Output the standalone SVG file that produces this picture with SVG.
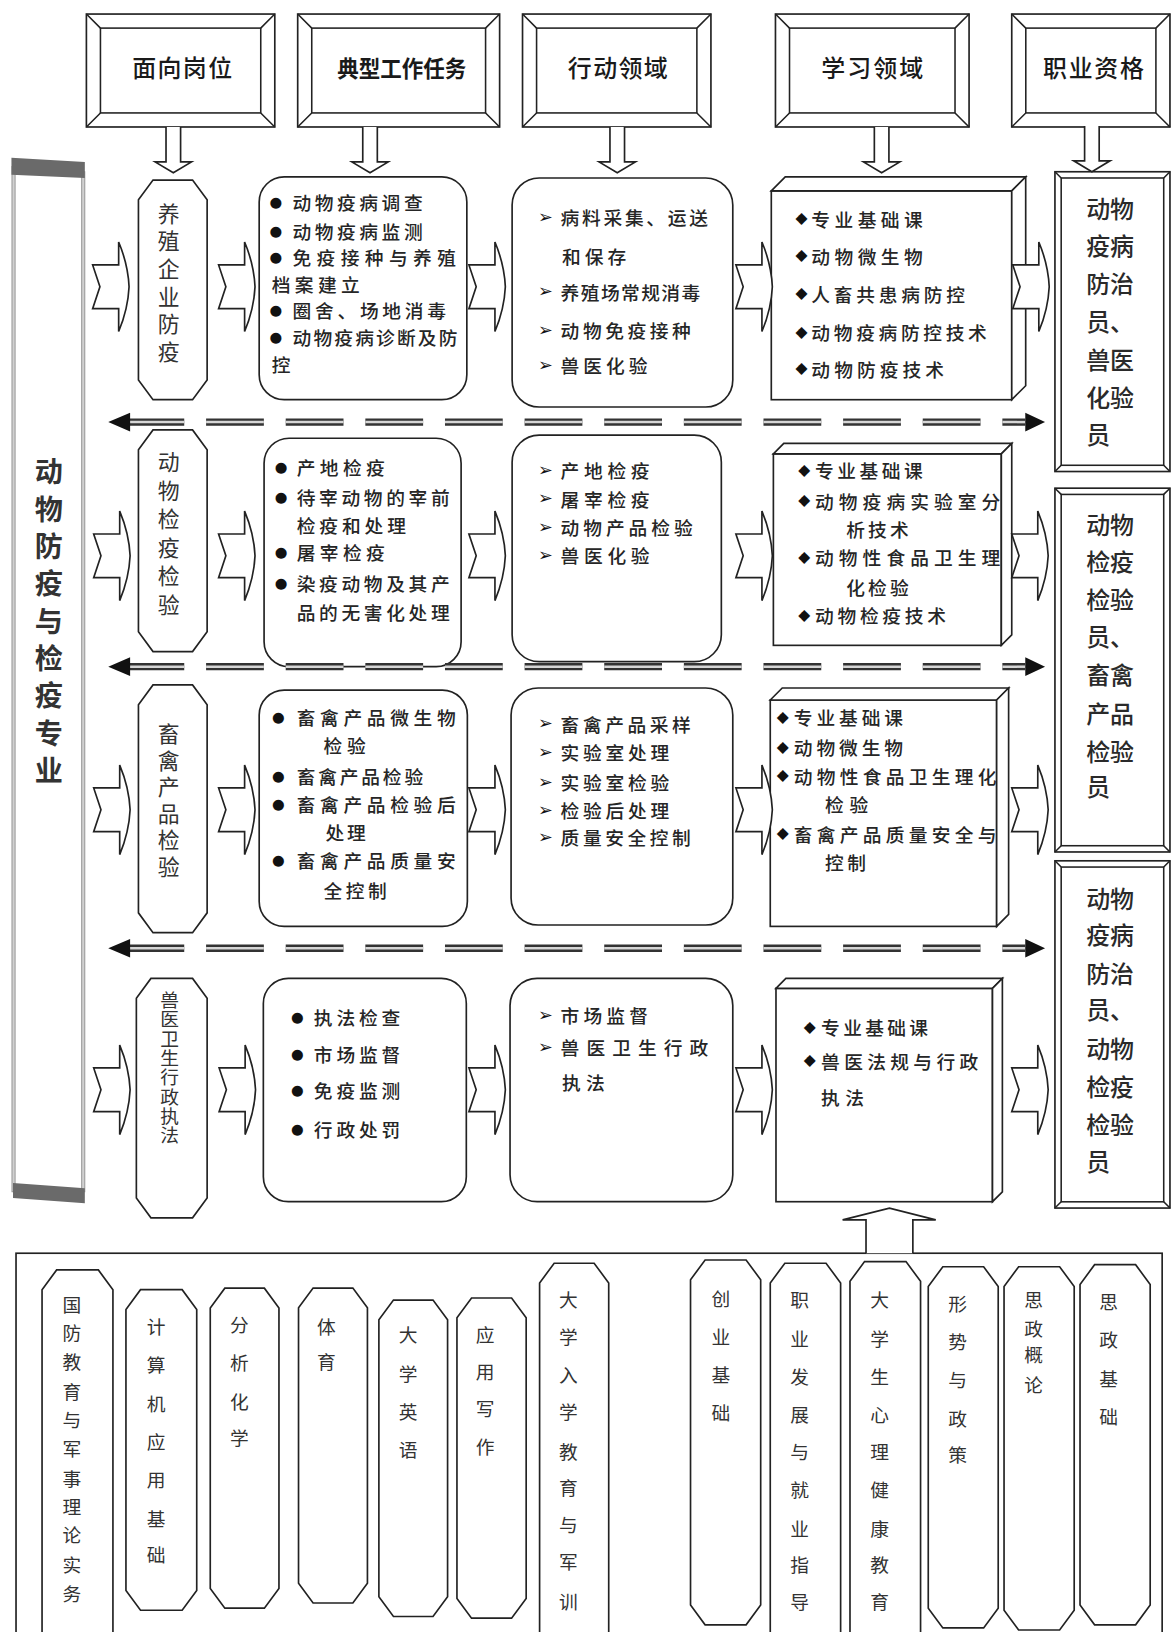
<svg xmlns="http://www.w3.org/2000/svg" width="1171" height="1632" viewBox="0 0 1171 1632">
<defs>
<style>
.s{fill:#fff;stroke:#222;stroke-width:1.6}
.fi{fill:none;stroke:#222;stroke-width:1.5}
.t,.hd,.ct,.lp,.ov,.bo{font-family:"Noto Sans CJK SC","Noto Sans CJK JP",sans-serif;dominant-baseline:central}
tspan{dominant-baseline:central}
.t{font-size:18px;fill:#262626;font-weight:500}
.hd{font-size:23px;fill:#1a1a1a;font-weight:500}
.hb{font-size:22px;font-weight:700}
.ct{font-size:23px;fill:#2a2a2a;font-weight:500}
.lp{font-size:27px;fill:#333;font-weight:700;text-anchor:middle;writing-mode:vertical-rl}
.ov{font-size:21px;fill:#333;text-anchor:middle;writing-mode:vertical-rl}
.ov4{font-size:18px}
.bo{font-size:18px;fill:#333;text-anchor:middle}
.sy{font-family:"DejaVu Sans",sans-serif;fill:#111;text-anchor:middle;dominant-baseline:central}
.dot{font-size:14px}
.arr{font-size:17px}
.dia{font-size:15px}
.dk{stroke:#333;stroke-width:7;stroke-dasharray:55.5 21;fill:none}
.dl{stroke:#d6d6d6;stroke-width:2.4;stroke-dasharray:55.5 21;fill:none}
.ah{fill:#111}
.band{fill:#6a6a6a}
.edge{fill:#d0d0d0;stroke:#888;stroke-width:0.8}
</style>
<path id="ra" d="M0 -21 H25 V-43 Q34 -21.5 35 0 Q34 21.5 25 43 V21 H0 L7 0 Z" class="s"/>
<path id="da" d="M-7 0 V33.5 H-17.5 L0 44 L17.5 33.5 H7 V0" class="s"/>
</defs>
<rect x="0" y="0" width="1171" height="1632" fill="#fff"/>
<g transform="scale(1.04089)">

<!-- left panel -->
<g id="major">
<path d="M11 151.5 L81.5 155.6 V1156 L12.5 1151 Z" fill="#fff"/>
<rect class="edge" x="11.5" y="160" width="3" height="985"/>
<rect class="edge" x="78.5" y="165" width="3" height="980"/>
<path class="band" d="M11 151.5 L81.5 155.6 V171 L11 168 Z"/>
<path class="band" d="M12.5 1136.6 L81.5 1141.5 V1156 L12.5 1151 Z"/>
<text class="lp" x="47" y="596.5" textLength="314">动物防疫与检疫专业</text>
</g>

<!-- headers -->
<g id="h1">
<rect class="s" x="83" y="13.5" width="181" height="108.5"/>
<rect class="fi" x="96.5" y="27" width="154" height="81.5"/>
<path class="fi" d="M83 13.5 L96.5 27 M264 13.5 L250.5 27 M83 122 L96.5 108.5 M264 122 L250.5 108.5"/>
<text class="hd" x="127" y="64" textLength="96">面向岗位</text>
</g>
<g id="h2">
<rect class="s" x="286" y="13.5" width="194" height="108.5"/>
<rect class="fi" x="299.5" y="27" width="167" height="81.5"/>
<path class="fi" d="M286 13.5 L299.5 27 M480 13.5 L466.5 27 M286 122 L299.5 108.5 M480 122 L466.5 108.5"/>
<text class="hd hb" x="324" y="64" textLength="124" lengthAdjust="spacingAndGlyphs">典型工作任务</text>
</g>
<g id="h3">
<rect class="s" x="502" y="13.5" width="181" height="108.5"/>
<rect class="fi" x="515.5" y="27" width="154" height="81.5"/>
<path class="fi" d="M502 13.5 L515.5 27 M683 13.5 L669.5 27 M502 122 L515.5 108.5 M683 122 L669.5 108.5"/>
<text class="hd" x="545.5" y="64" textLength="96">行动领域</text>
</g>
<g id="h4">
<rect class="s" x="745" y="13.5" width="186" height="108.5"/>
<rect class="fi" x="758.5" y="27" width="159" height="81.5"/>
<path class="fi" d="M745 13.5 L758.5 27 M931 13.5 L917.5 27 M745 122 L758.5 108.5 M931 122 L917.5 108.5"/>
<text class="hd" x="789" y="64" textLength="98">学习领域</text>
</g>
<g id="h5">
<rect class="s" x="972" y="13.5" width="152" height="108.5"/>
<rect class="fi" x="985.5" y="27" width="125" height="81.5"/>
<path class="fi" d="M972 13.5 L985.5 27 M1124 13.5 L1110.5 27 M972 122 L985.5 108.5 M1124 122 L1110.5 108.5"/>
<text class="hd" x="1002" y="64" textLength="97">职业资格</text>
</g>

<!-- row 1 -->
<g id="post1">
<path class="s" d="M147 173 H185 L199 192 V365 L185 384 H147 L133 365 V192 Z"/>
<text class="ov" x="162" y="271.5" textLength="154">养殖企业防疫</text>
</g>
<g id="task1">
<rect class="s" x="249" y="170" width="199.5" height="214" rx="24"/>
<text class="sy dot" x="265" y="193.7">●</text><text class="t" x="281" y="193.7" textLength="125">动物疫病调查</text>
<text class="sy dot" x="265" y="221">●</text><text class="t" x="281" y="221" textLength="125">动物疫病监测</text>
<text class="sy dot" x="265" y="246.6">●</text><text class="t" x="281" y="246.6" textLength="157">免疫接种与养殖</text>
<text class="t" x="261" y="272" textLength="84.7">档案建立</text>
<text class="sy dot" x="265" y="297.8">●</text><text class="t" x="281" y="297.8" textLength="147.5">圈舍、场地消毒</text>
<text class="sy dot" x="265" y="323.5">●</text><text class="t" x="281" y="323.5" textLength="158.5">动物疫病诊断及防</text>
<text class="t" x="261" y="349">控</text>
</g>
<g id="act1">
<rect class="s" x="492" y="171" width="212" height="220" rx="26"/>
<text class="sy arr" x="524" y="208">➢</text><text class="t" x="538.6" y="208" textLength="141.5">病料采集、运送</text>
<text class="t" x="540" y="245" textLength="61.7">和保存</text>
<text class="sy arr" x="524" y="280">➢</text><text class="t" x="538.6" y="280" textLength="134">养殖场常规消毒</text>
<text class="sy arr" x="524" y="317">➢</text><text class="t" x="538.6" y="317" textLength="125">动物免疫接种</text>
<text class="sy arr" x="524" y="350.6">➢</text><text class="t" x="538.6" y="350.6" textLength="83.4">兽医化验</text>
</g>
<g id="learn1">
<rect class="s" x="741" y="183.4" width="231" height="200.6"/>
<path class="s" d="M741 183.4 L754.4 170 H985.4 L972 183.4 Z"/>
<path class="s" d="M972 183.4 L985.4 170 V370.6 L972 384 Z"/>
<text class="sy dia" x="770" y="209.8">◆</text><text class="t" x="779.5" y="209.8" textLength="107">专业基础课</text>
<text class="sy dia" x="770" y="245">◆</text><text class="t" x="779.5" y="245" textLength="107">动物微生物</text>
<text class="sy dia" x="770" y="281.8">◆</text><text class="t" x="779.5" y="281.8" textLength="147.5">人畜共患病防控</text>
<text class="sy dia" x="770" y="318.6">◆</text><text class="t" x="779.5" y="318.6" textLength="168.5">动物疫病防控技术</text>
<text class="sy dia" x="770" y="354">◆</text><text class="t" x="779.5" y="354" textLength="127.5">动物防疫技术</text>
</g>

<!-- row 2 -->
<g id="post2">
<path class="s" d="M147 413 H185 L199 432 V607 L185 626 H147 L133 607 V432 Z"/>
<text class="ov" x="162" y="512.3" textLength="158.5">动物检疫检验</text>
</g>
<g id="task2">
<rect class="s" x="253.7" y="421" width="189.3" height="219.5" rx="24"/>
<text class="sy dot" x="270" y="448.4">●</text><text class="t" x="285" y="448.4" textLength="84.7">产地检疫</text>
<text class="sy dot" x="270" y="477">●</text><text class="t" x="285" y="477" textLength="147">待宰动物的宰前</text>
<text class="t" x="285" y="504" textLength="105">检疫和处理</text>
<text class="sy dot" x="270" y="530">●</text><text class="t" x="285" y="530" textLength="84.7">屠宰检疫</text>
<text class="sy dot" x="270" y="560">●</text><text class="t" x="285" y="560" textLength="147">染疫动物及其产</text>
<text class="t" x="285" y="587.6" textLength="147">品的无害化处理</text>
</g>
<g id="act2">
<rect class="s" x="492" y="418" width="201" height="217.7" rx="26"/>
<text class="sy arr" x="524" y="451.5">➢</text><text class="t" x="538.6" y="451.5" textLength="85.4">产地检疫</text>
<text class="sy arr" x="524" y="478.6">➢</text><text class="t" x="538.6" y="478.6" textLength="85.4">屠宰检疫</text>
<text class="sy arr" x="524" y="506">➢</text><text class="t" x="538.6" y="506" textLength="126.8">动物产品检验</text>
<text class="sy arr" x="524" y="533">➢</text><text class="t" x="538.6" y="533" textLength="85.4">兽医化验</text>
</g>
<g id="learn2">
<rect class="s" x="743" y="436" width="219" height="184"/>
<path class="s" d="M743 436 L753 426 H972 L962 436 Z"/>
<path class="s" d="M962 436 L972 426 V610 L962 620 Z"/>
<text class="sy dia" x="772.7" y="451.5">◆</text><text class="t" x="783" y="451.5" textLength="103.4">专业基础课</text>
<text class="sy dia" x="772.7" y="480.4">◆</text><text class="t" x="783" y="480.4" textLength="178">动物疫病实验室分</text>
<text class="t" x="813" y="507.5" textLength="60">析技术</text>
<text class="sy dia" x="772.7" y="534.8">◆</text><text class="t" x="783" y="534.8" textLength="178">动物性食品卫生理</text>
<text class="t" x="813" y="563.6" textLength="60">化检验</text>
<text class="sy dia" x="772.7" y="590.8">◆</text><text class="t" x="783" y="590.8" textLength="125.8">动物检疫技术</text>
</g>

<!-- row 3 -->
<g id="post3">
<path class="s" d="M147 658 H185 L199 677 V877 L185 896 H147 L133 877 V677 Z"/>
<text class="ov" x="162" y="768.8" textLength="148.5">畜禽产品检验</text>
</g>
<g id="task3">
<rect class="s" x="249" y="663" width="200" height="227" rx="24"/>
<text class="sy dot" x="267.5" y="688.5">●</text><text class="t" x="285" y="688.5" textLength="152.7">畜禽产品微生物</text>
<text class="t" x="310.7" y="715.7" textLength="40.6">检验</text>
<text class="sy dot" x="267.5" y="744.6">●</text><text class="t" x="285" y="744.6" textLength="121.5">畜禽产品检验</text>
<text class="sy dot" x="267.5" y="771.6">●</text><text class="t" x="285" y="771.6" textLength="152.7">畜禽产品检验后</text>
<text class="t" x="312.6" y="799" textLength="38.7">处理</text>
<text class="sy dot" x="267.5" y="826">●</text><text class="t" x="285" y="826" textLength="152.7">畜禽产品质量安</text>
<text class="t" x="310.7" y="855" textLength="60.8">全控制</text>
</g>
<g id="act3">
<rect class="s" x="491" y="661" width="213" height="227.7" rx="26"/>
<text class="sy arr" x="524" y="694.8">➢</text><text class="t" x="538.6" y="694.8" textLength="124.9">畜禽产品采样</text>
<text class="sy arr" x="524" y="722">➢</text><text class="t" x="538.6" y="722" textLength="104.4">实验室处理</text>
<text class="sy arr" x="524" y="751">➢</text><text class="t" x="538.6" y="751" textLength="104.4">实验室检验</text>
<text class="sy arr" x="524" y="778">➢</text><text class="t" x="538.6" y="778" textLength="104.4">检验后处理</text>
<text class="sy arr" x="524" y="803.8">➢</text><text class="t" x="538.6" y="803.8" textLength="124.9">质量安全控制</text>
</g>
<g id="learn3">
<rect class="s" x="740" y="672.5" width="217.5" height="217.5"/>
<path class="s" d="M740 672.5 L751.5 661 H969 L957.5 672.5 Z"/>
<path class="s" d="M957.5 672.5 L969 661 V878.5 L957.5 890 Z"/>
<text class="sy dia" x="752" y="688.5">◆</text><text class="t" x="762.6" y="688.5" textLength="105">专业基础课</text>
<text class="sy dia" x="752" y="717.3">◆</text><text class="t" x="762.6" y="717.3" textLength="105">动物微生物</text>
<text class="sy dia" x="752" y="744.6">◆</text><text class="t" x="762.6" y="744.6" textLength="194.8">动物性食品卫生理化</text>
<text class="t" x="792.6" y="771.6" textLength="41.4">检验</text>
<text class="sy dia" x="752" y="800.4">◆</text><text class="t" x="762.6" y="800.4" textLength="194.8">畜禽产品质量安全与</text>
<text class="t" x="792.6" y="827.8" textLength="39.4">控制</text>
</g>

<!-- row 4 -->
<g id="post4">
<path class="s" d="M145 940 H185 L199 959 V1151 L185 1170 H145 L131 1151 V959 Z"/>
<text class="ov ov4" x="163" y="1025.5" textLength="148">兽医卫生行政执法</text>
</g>
<g id="task4">
<rect class="s" x="253" y="940" width="195" height="214.5" rx="24"/>
<text class="sy dot" x="285.7" y="976.7">●</text><text class="t" x="301.5" y="976.7" textLength="83">执法检查</text>
<text class="sy dot" x="285.7" y="1012">●</text><text class="t" x="301.5" y="1012" textLength="83">市场监督</text>
<text class="sy dot" x="285.7" y="1047">●</text><text class="t" x="301.5" y="1047" textLength="83">免疫监测</text>
<text class="sy dot" x="285.7" y="1084">●</text><text class="t" x="301.5" y="1084" textLength="83">行政处罚</text>
</g>
<g id="act4">
<rect class="s" x="490" y="940" width="214" height="214.5" rx="26"/>
<text class="sy arr" x="524" y="975">➢</text><text class="t" x="538.6" y="975" textLength="83.8">市场监督</text>
<text class="sy arr" x="524" y="1005.6">➢</text><text class="t" x="538.6" y="1005.6" textLength="141.7">兽医卫生行政</text>
<text class="t" x="540" y="1039" textLength="41">执法</text>
</g>
<g id="learn4">
<rect class="s" x="745.5" y="949.5" width="208" height="205"/>
<path class="s" d="M745.5 949.5 L755 940 H963 L953.5 949.5 Z"/>
<path class="s" d="M953.5 949.5 L963 940 V1145 L953.5 1154.5 Z"/>
<text class="sy dia" x="778" y="986.4">◆</text><text class="t" x="788.8" y="986.4" textLength="102.8">专业基础课</text>
<text class="sy dia" x="778" y="1018.4">◆</text><text class="t" x="788.8" y="1018.4" textLength="151">兽医法规与行政</text>
<text class="t" x="788.8" y="1053.6" textLength="41.2">执法</text>
</g>

<!-- certificates -->
<g id="cert1">
<rect class="s" x="1013.5" y="165" width="110.5" height="288"/>
<rect class="fi" x="1019.5" y="171" width="98.5" height="276"/>
<path class="fi" d="M1013.5 165 L1019.5 171 M1124 165 L1118 171 M1013.5 453 L1019.5 447 M1124 453 L1118 447"/>
<text class="ct" x="1043.5"><tspan x="1043.5" y="199">动物</tspan><tspan x="1043.5" y="234">疫病</tspan><tspan x="1043.5" y="271">防治</tspan><tspan x="1043.5" y="307">员、</tspan><tspan x="1043.5" y="344">兽医</tspan><tspan x="1043.5" y="380">化验</tspan><tspan x="1043.5" y="416">员</tspan></text>
</g>
<g id="cert2">
<rect class="s" x="1013.5" y="469" width="110.5" height="349.5"/>
<rect class="fi" x="1019.5" y="475" width="98.5" height="337.5"/>
<path class="fi" d="M1013.5 469 L1019.5 475 M1124 469 L1118 475 M1013.5 818.5 L1019.5 812.5 M1124 818.5 L1118 812.5"/>
<text class="ct" x="1043.5"><tspan x="1043.5" y="502.6">动物</tspan><tspan x="1043.5" y="538">检疫</tspan><tspan x="1043.5" y="574.6">检验</tspan><tspan x="1043.5" y="610">员、</tspan><tspan x="1043.5" y="646.7">畜禽</tspan><tspan x="1043.5" y="684">产品</tspan><tspan x="1043.5" y="720.5">检验</tspan><tspan x="1043.5" y="754">员</tspan></text>
</g>
<g id="cert3">
<rect class="s" x="1013.5" y="827" width="110.5" height="333.6"/>
<rect class="fi" x="1019.5" y="833" width="98.5" height="321.6"/>
<path class="fi" d="M1013.5 827 L1019.5 833 M1124 827 L1118 833 M1013.5 1160.6 L1019.5 1154.6 M1124 1160.6 L1118 1154.6"/>
<text class="ct" x="1043.5"><tspan x="1043.5" y="861.5">动物</tspan><tspan x="1043.5" y="896.5">疫病</tspan><tspan x="1043.5" y="933.6">防治</tspan><tspan x="1043.5" y="968.6">员、</tspan><tspan x="1043.5" y="1005.6">动物</tspan><tspan x="1043.5" y="1042">检疫</tspan><tspan x="1043.5" y="1079">检验</tspan><tspan x="1043.5" y="1114.5">员</tspan></text>
</g>

<!-- bottom courses -->
<g id="basic">
<rect class="s" x="15.4" y="1204" width="1101.1" height="380"/>
<g id="c1"><path class="s" d="M54.4 1220 H94.5 L108.5 1239 V1571 L94.5 1590 H54.4 L40.4 1571 V1239 Z"/>
<text class="bo"><tspan x="69" y="1252">国</tspan><tspan x="69" y="1279">防</tspan><tspan x="69" y="1306.6">教</tspan><tspan x="69" y="1335.4">育</tspan><tspan x="69" y="1362.6">与</tspan><tspan x="69" y="1390">军</tspan><tspan x="69" y="1418.7">事</tspan><tspan x="69" y="1446">理</tspan><tspan x="69" y="1473">论</tspan><tspan x="69" y="1502">实</tspan><tspan x="69" y="1529">务</tspan></text></g>
<g id="c2"><path class="s" d="M135 1239 H175 L189 1258 V1528 L175 1547 H135 L121 1528 V1258 Z"/>
<text class="bo"><tspan x="150" y="1273">计</tspan><tspan x="150" y="1309.7">算</tspan><tspan x="150" y="1346.6">机</tspan><tspan x="150" y="1383.5">应</tspan><tspan x="150" y="1420">用</tspan><tspan x="150" y="1457">基</tspan><tspan x="150" y="1492">础</tspan></text></g>
<g id="c3"><path class="s" d="M216 1237.6 H254 L268 1256.6 V1526 L254 1545 H216 L202 1526 V1256.6 Z"/>
<text class="bo"><tspan x="230" y="1271">分</tspan><tspan x="230" y="1308">析</tspan><tspan x="230" y="1345">化</tspan><tspan x="230" y="1380">学</tspan></text></g>
<g id="c4"><path class="s" d="M300.8 1237.5 H339 L353 1256.5 V1521 L339 1540 H300.8 L286.8 1521 V1256.5 Z"/>
<text class="bo"><tspan x="313.5" y="1273">体</tspan><tspan x="313.5" y="1306.6">育</tspan></text></g>
<g id="c5"><path class="s" d="M378 1249 H416 L430 1268 V1534 L416 1553 H378 L364 1534 V1268 Z"/>
<text class="bo"><tspan x="392" y="1280.8">大</tspan><tspan x="392" y="1318">学</tspan><tspan x="392" y="1354.7">英</tspan><tspan x="392" y="1391">语</tspan></text></g>
<g id="c6"><path class="s" d="M453 1247 H491.5 L505.5 1266 V1535.6 L491.5 1554.6 H453 L439 1535.6 V1266 Z"/>
<text class="bo"><tspan x="466" y="1281">应</tspan><tspan x="466" y="1316">用</tspan><tspan x="466" y="1351.4">写</tspan><tspan x="466" y="1388">作</tspan></text></g>
<g id="c7"><path class="s" d="M532.4 1213.6 H570.8 L584.8 1232.6 V1571 L570.8 1590 H532.4 L518.4 1571 V1232.6 Z"/>
<text class="bo"><tspan x="546" y="1247">大</tspan><tspan x="546" y="1282.6">学</tspan><tspan x="546" y="1319">入</tspan><tspan x="546" y="1354.7">学</tspan><tspan x="546" y="1393">教</tspan><tspan x="546" y="1428">育</tspan><tspan x="546" y="1463">与</tspan><tspan x="546" y="1498.7">军</tspan><tspan x="546" y="1537">训</tspan></text></g>
<g id="c8"><path class="s" d="M677.4 1210.5 H716.8 L730.8 1229.5 V1542 L716.8 1561 H677.4 L663.4 1542 V1229.5 Z"/>
<text class="bo"><tspan x="692.5" y="1245.7">创</tspan><tspan x="692.5" y="1282.6">业</tspan><tspan x="692.5" y="1319">基</tspan><tspan x="692.5" y="1356">础</tspan></text></g>
<g id="c9"><path class="s" d="M754 1213.6 H793.6 L807.6 1232.6 V1571 L793.6 1590 H754 L740 1571 V1232.6 Z"/>
<text class="bo"><tspan x="768.3" y="1247">职</tspan><tspan x="768.3" y="1284">业</tspan><tspan x="768.3" y="1321">发</tspan><tspan x="768.3" y="1357.7">展</tspan><tspan x="768.3" y="1393">与</tspan><tspan x="768.3" y="1429.8">就</tspan><tspan x="768.3" y="1466.7">业</tspan><tspan x="768.3" y="1501.8">指</tspan><tspan x="768.3" y="1537">导</tspan></text></g>
<g id="c10"><path class="s" d="M830.6 1212 H870.4 L884.4 1231 V1571 L870.4 1590 H830.6 L816.6 1571 V1231 Z"/>
<text class="bo"><tspan x="845" y="1247">大</tspan><tspan x="845" y="1284">学</tspan><tspan x="845" y="1321">生</tspan><tspan x="845" y="1357.7">心</tspan><tspan x="845" y="1393">理</tspan><tspan x="845" y="1429.8">健</tspan><tspan x="845" y="1466.7">康</tspan><tspan x="845" y="1501.8">教</tspan><tspan x="845" y="1537">育</tspan></text></g>
<g id="c11"><path class="s" d="M905.8 1217 H945 L959 1236 V1545 L945 1564 H905.8 L891.8 1545 V1236 Z"/>
<text class="bo"><tspan x="920" y="1250.6">形</tspan><tspan x="920" y="1287.4">势</tspan><tspan x="920" y="1324">与</tspan><tspan x="920" y="1361">政</tspan><tspan x="920" y="1396">策</tspan></text></g>
<g id="c12"><path class="s" d="M978.6 1217 H1018 L1032 1236 V1547 L1018 1566 H978.6 L964.6 1547 V1236 Z"/>
<text class="bo"><tspan x="993" y="1247">思</tspan><tspan x="993" y="1274.6">政</tspan><tspan x="993" y="1300">概</tspan><tspan x="993" y="1329">论</tspan></text></g>
<g id="c13"><path class="s" d="M1051.6 1215 H1091 L1105 1234 V1542 L1091 1561 H1051.6 L1037.6 1542 V1234 Z"/>
<text class="bo"><tspan x="1065" y="1249">思</tspan><tspan x="1065" y="1285.7">政</tspan><tspan x="1065" y="1322.6">基</tspan><tspan x="1065" y="1359.5">础</tspan></text></g>
</g>

<!-- connectors -->
<g id="connectors">
<use href="#da" x="166.5" y="122"/>
<use href="#da" x="355.5" y="122"/>
<use href="#da" x="593" y="122"/>
<use href="#da" x="847" y="122"/>
<use href="#da" x="1049" y="121"/>

<use href="#ra" x="89" y="275.5"/>
<use href="#ra" x="210" y="275.5"/>
<use href="#ra" x="450.5" y="275.5"/>
<use href="#ra" x="707" y="275.5"/>
<use href="#ra" x="973" y="275.5"/>

<use href="#ra" x="90" y="534"/>
<use href="#ra" x="210" y="534"/>
<use href="#ra" x="450.5" y="534"/>
<use href="#ra" x="707" y="534"/>
<use href="#ra" x="972" y="534"/>

<use href="#ra" x="90" y="778"/>
<use href="#ra" x="210" y="778"/>
<use href="#ra" x="450.5" y="778"/>
<use href="#ra" x="707" y="778"/>
<use href="#ra" x="972" y="778"/>

<use href="#ra" x="90" y="1047"/>
<use href="#ra" x="210.5" y="1047"/>
<use href="#ra" x="450.5" y="1047"/>
<use href="#ra" x="707" y="1047"/>
<use href="#ra" x="972" y="1047"/>

<line class="dk" x1="121.5" y1="405.5" x2="985" y2="405.5"/>
<line class="dl" x1="121.5" y1="405.5" x2="985" y2="405.5"/>
<path class="ah" d="M104 405.5 L125 396.5 V414.5 Z M1004 405.5 L985 396.5 V414.5 Z"/>
<line class="dk" x1="121.5" y1="640.5" x2="985" y2="640.5"/>
<line class="dl" x1="121.5" y1="640.5" x2="985" y2="640.5"/>
<path class="ah" d="M104 640.5 L125 631.5 V649.5 Z M1004 640.5 L985 631.5 V649.5 Z"/>
<line class="dk" x1="121.5" y1="911" x2="985" y2="911"/>
<line class="dl" x1="121.5" y1="911" x2="985" y2="911"/>
<path class="ah" d="M104 911 L125 902 V920 Z M1004 911 L985 902 V920 Z"/>

<path class="s" d="M832 1204 V1172 H809.5 L854.5 1160.7 L899 1172 H877 V1204"/>
</g>
</g>
</svg>
